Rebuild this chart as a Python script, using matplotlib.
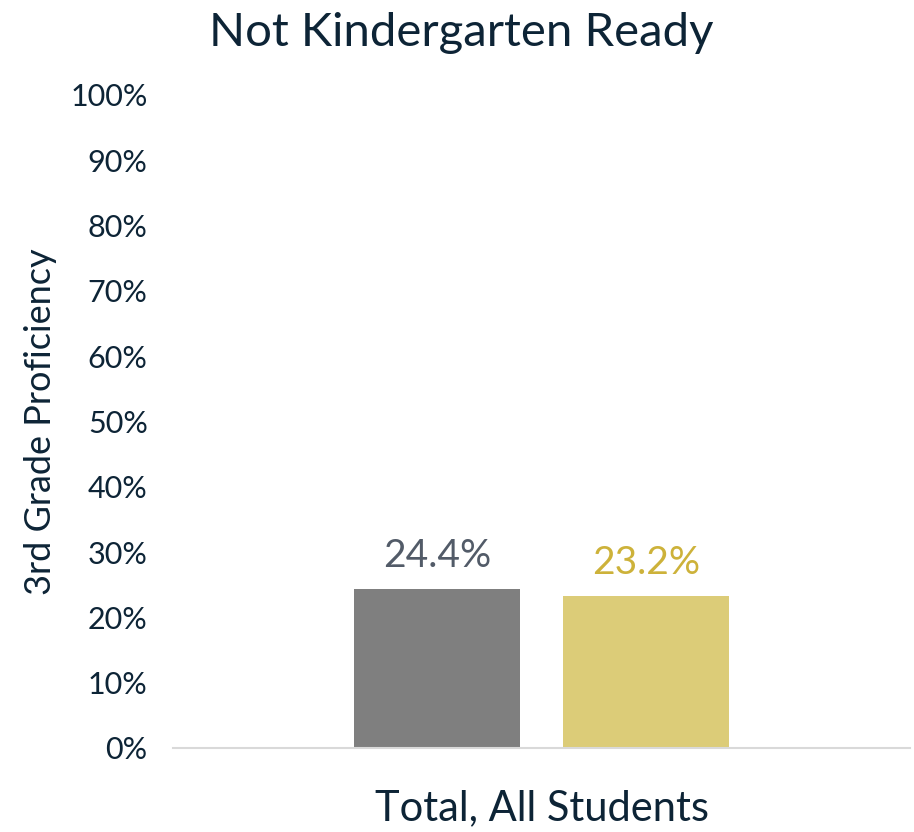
import matplotlib
matplotlib.use('Agg')
import matplotlib.pyplot as plt
import numpy as np

# Data
category = 'Total, All Students'
series_names = ['Series A', 'Series B']
values = [24.4, 23.2]
bar_colors = ['#7f7f7f', '#dccc78']
label_colors = ['#525b68', '#cdb23a']
yticks = np.arange(0, 101, 10)

plt.rcParams['font.family'] = ['Lato', 'DejaVu Sans']
text_color = '#0d2436'

fig = plt.figure(figsize=(9.14, 8.32), dpi=100)
ax = fig.add_axes([0.189, 0.101, 0.807, 0.785])

offsets = [-0.142, 0.142]
width = 0.225
for i in range(len(values)):
    ax.bar(offsets[i], values[i], width, color=bar_colors[i], zorder=2)
    ax.text(offsets[i], values[i] + 2.3, f'{values[i]:.1f}%', ha='center', va='bottom',
            fontsize=28, color=label_colors[i])

ax.set_xlim(-0.5, 0.5)
ax.set_ylim(0, 100)
ax.set_yticks(yticks)
ax.set_yticklabels([f'{t}%' for t in yticks], fontsize=22, color=text_color)
ax.set_xticks([0])
ax.set_xticklabels([category], fontsize=30, color=text_color)
ax.tick_params(axis='both', length=0)
ax.tick_params(axis='y', pad=18)
ax.tick_params(axis='x', pad=30)

for side in ['top', 'right', 'left']:
    ax.spines[side].set_visible(False)
ax.spines['bottom'].set_color('#d9d9d9')
ax.spines['bottom'].set_linewidth(1.5)

ax.set_ylabel('3rd Grade Proficiency', fontsize=26, color=text_color)
ax.yaxis.set_label_coords(-0.157, 0.5)
fig.suptitle('Not Kindergarten Ready', fontsize=34, color=text_color, y=0.985, x=0.505)

plt.savefig('out.png', dpi=100)
